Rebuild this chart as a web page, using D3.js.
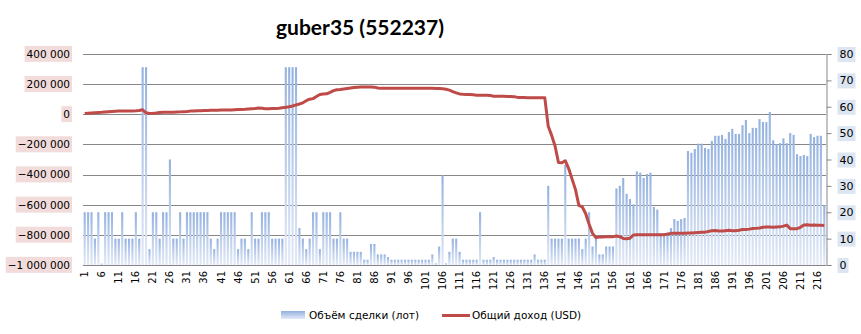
<html>
<head>
  <meta http-equiv='Content-Type' content='text/html;charset=utf-8'>
  <title>guber35 (552237)</title>
  <script src="https://d3js.org/d3.v7.min.js"></script>
  <style type='text/css'>
    body { margin: 0; background: #fff; }
    #main { position: relative; width: 861px; height: 334px; }
    svg { display: block; }
    svg text { font-family: 'DejaVu Sans', Verdana, sans-serif; fill: #000; }
    .title { font-family: Lato, 'Open Sans', sans-serif !important; font-weight: 700; font-size: 21px; }
    .grid line { stroke: #878787; stroke-width: 1; }
  </style>
</head>
<body>
<div id="main"></div>

<script type='text/javascript'>

// x categories (deal number) and the labels shown on the axis
var categories = d3.range(1, 219);
var xTickLabels = [1, 6, 11, 16, 21, 26, 31, 36, 41, 46, 51, 56, 61, 66, 71, 76, 81, 86, 91, 96,
  101, 106, 111, 116, 121, 126, 131, 136, 141, 146, 151, 156, 161, 166, 171, 176, 181, 186,
  191, 196, 201, 206, 211, 216];

var leftTicks = [-1000000, -800000, -600000, -400000, -200000, 0, 200000, 400000];
var rightTicks = [0, 10, 20, 30, 40, 50, 60, 70, 80];

// Объём сделки (лот) - right axis
var volume = [
  20, 20, 20, 10, 20, 0.5, 20, 20, 20, 10,
  10, 20, 10, 10, 10, 20, 10, 75, 75, 6,
  20, 20, 10, 20, 20, 40, 10, 10, 20, 10,
  20, 20, 20, 20, 20, 20, 20, 10, 6, 10,
  20, 20, 20, 20, 20, 6, 10, 10, 6, 20,
  10, 10, 20, 20, 20, 10, 10, 10, 10, 75,
  75, 75, 75, 14, 10, 6, 10, 20, 20, 6,
  20, 20, 20, 10, 10, 20, 10, 10, 5, 5,
  5, 5, 2, 2, 8, 8, 4, 4, 4, 3,
  2, 2, 2, 2, 2, 2, 2, 2, 2, 2,
  2, 2, 4, 0.6, 7, 34, 0.6, 5, 10, 10,
  5, 2, 2, 2, 2, 2, 20, 2, 2, 2,
  3, 2, 2, 2, 2, 2, 2, 2, 2, 2,
  2, 2, 4, 2, 2, 2, 30, 10, 10, 10,
  10, 38, 10, 10, 10, 10, 6, 10, 20, 7,
  10, 4, 4, 7, 7, 7, 29, 30, 33, 27,
  25, 23, 35.5, 35, 33, 34.5, 35, 22, 21, 12,
  12, 12.4, 14, 17.4, 16.7, 17.4, 17.8, 43.2, 42.5, 44,
  46, 46, 44.4, 44, 47, 49, 49, 49.3, 47.8, 50.4,
  51.6, 49.7, 49.7, 53, 55, 50, 52, 52, 55.3, 54.2,
  54.2, 58, 47.3, 45.8, 46.2, 48, 46.2, 50, 49.3, 42,
  41.3, 41.7, 41.3, 49.7, 48.5, 49, 49, 22.7
];

// Общий доход (USD) - left axis
var income = [
  5000, 7000, 9000, 11000, 12000, 13000, 15000, 17000, 19000, 20000,
  21000, 21000, 22000, 22000, 22000, 23000, 25000, 30000, 10000, 6000,
  7000, 9000, 12000, 13000, 13000, 14000, 14000, 15000, 16000, 17000,
  18000, 21000, 22000, 23000, 24000, 25000, 25000, 26000, 27000, 27000,
  28000, 28000, 29000, 29000, 30000, 31000, 32000, 33000, 35000, 37000,
  39000, 42000, 40000, 37000, 37000, 38000, 39000, 40000, 43000, 46000,
  50000, 55000, 62000, 68000, 76000, 90000, 100000, 104000, 118000, 131000,
  134000, 136000, 146000, 157000, 163000, 165000, 168000, 171000, 174000, 177000,
  180000, 181000, 181000, 181000, 181000, 180000, 175000, 172000, 172000, 172000,
  172000, 172000, 172000, 172000, 172000, 172000, 172000, 172000, 172000, 172000,
  172000, 172000, 172000, 171000, 171000, 170000, 166000, 160000, 151000, 142000,
  135000, 133000, 132000, 131000, 129000, 127000, 127000, 126000, 126000, 124000,
  120000, 119000, 119000, 119000, 118000, 118000, 117000, 112000, 111000, 111000,
  110000, 110000, 110000, 110000, 110000, 109000, -80000, -140000, -210000, -320000,
  -322000, -308000, -360000, -430000, -500000, -605000, -615000, -660000, -730000, -790000,
  -818000, -815000, -814000, -813000, -813000, -812000, -808000, -812000, -824000, -826000,
  -822000, -801000, -800000, -800000, -800000, -800000, -800000, -800000, -800000, -800000,
  -799000, -795000, -790000, -790000, -790000, -790000, -789000, -788000, -788000, -786000,
  -784000, -783000, -782000, -778000, -772000, -771000, -774000, -774000, -772000, -770000,
  -772000, -773000, -770000, -765000, -764000, -762000, -758000, -757000, -755000, -750000,
  -748000, -748000, -749000, -748000, -747000, -742000, -735000, -760000, -760000, -759000,
  -750000, -735000, -733000, -736000, -734000, -736000, -737000, -738000
];

var seriesNames = ['Объём сделки (лот)', 'Общий доход (USD)'];

var W = 861, H = 334,
    plot = { left: 83, right: 826, top: 54, bottom: 265 },
    lineColor = '#be4b48';

var fmt = function (v) {
  return d3.format(',')(v).replace(/,/g, ' ');
};

var svg = d3.select('#main').append('svg')
    .attr('width', W)
    .attr('height', H);

var defs = svg.append('defs');
var grad = defs.append('linearGradient')
    .attr('id', 'barGrad')
    .attr('x1', 0).attr('y1', 0).attr('x2', 0).attr('y2', 1);
grad.append('stop').attr('offset', '0%').attr('stop-color', '#93b1e0');
grad.append('stop').attr('offset', '100%').attr('stop-color', '#e3eaf7');

var x = d3.scaleBand()
    .domain(categories)
    .range([plot.left, plot.right])
    .paddingInner(0.38)
    .paddingOuter(0.19);

var yL = d3.scaleLinear()
    .domain([-1000000, 400000])
    .range([plot.bottom, plot.top]);

var yR = d3.scaleLinear()
    .domain([0, 80])
    .range([plot.bottom, plot.top]);

// title
svg.append('text')
    .attr('class', 'title')
    .attr('x', 360)
    .attr('y', 35)
    .attr('text-anchor', 'middle')
    .text('guber35 (552237)');

// gridlines from the left axis
svg.append('g')
    .attr('class', 'grid')
    .selectAll('line')
    .data(leftTicks)
  .enter().append('line')
    .attr('x1', plot.left)
    .attr('x2', plot.right)
    .attr('y1', function (d) { return Math.round(yL(d)) + 0.5; })
    .attr('y2', function (d) { return Math.round(yL(d)) + 0.5; });

// bars
svg.append('g')
    .selectAll('rect')
    .data(categories)
  .enter().append('rect')
    .attr('x', function (d) { return x(d); })
    .attr('width', x.bandwidth())
    .attr('y', function (d, i) { return yR(volume[i]); })
    .attr('height', function (d, i) { return yR(0) - yR(volume[i]); })
    .attr('fill', 'url(#barGrad)');

// right axis
var rightAxis = d3.axisRight(yR)
    .tickValues(rightTicks)
    .tickSize(5)
    .tickPadding(8);

var gR = svg.append('g')
    .attr('transform', 'translate(' + (plot.right + 0.5) + ',0)')
    .call(rightAxis);
gR.select('.domain').attr('stroke', '#878787');
gR.selectAll('.tick line').attr('stroke', '#878787');
gR.selectAll('.tick text')
    .attr('font-size', 11)
    .attr('font-family', "'DejaVu Sans', Verdana, sans-serif");

gR.selectAll('.tick').each(function () {
  var t = d3.select(this).select('text'),
      b = t.node().getBBox();
  d3.select(this).insert('rect', 'text')
      .attr('x', b.x - 2)
      .attr('y', b.y - 1)
      .attr('width', b.width + 4)
      .attr('height', b.height + 2)
      .attr('fill', '#dce6f2');
});

// left axis (labels only)
var leftAxis = d3.axisLeft(yL)
    .tickValues(leftTicks)
    .tickSize(0)
    .tickPadding(13)
    .tickFormat(fmt);

var gL = svg.append('g')
    .attr('transform', 'translate(' + plot.left + ',0)')
    .call(leftAxis);
gL.select('.domain').remove();
gL.selectAll('.tick text')
    .attr('font-size', 10.5)
    .attr('font-family', "'DejaVu Sans', Verdana, sans-serif");

gL.selectAll('.tick').each(function () {
  var t = d3.select(this).select('text'),
      b = t.node().getBBox();
  d3.select(this).insert('rect', 'text')
      .attr('x', b.x - 2)
      .attr('y', b.y - 2)
      .attr('width', b.width + 4)
      .attr('height', b.height + 4)
      .attr('fill', '#f2dcdb');
});

// x axis labels, rotated
var bottomAxis = d3.axisBottom(x)
    .tickValues(xTickLabels)
    .tickSize(0)
    .tickPadding(0);

var gB = svg.append('g')
    .attr('transform', 'translate(0,' + plot.bottom + ')')
    .call(bottomAxis);
gB.select('.domain').remove();
gB.selectAll('.tick text')
    .attr('font-size', 10)
    .attr('font-family', "'DejaVu Sans', Verdana, sans-serif")
    .attr('transform', 'rotate(-90)')
    .attr('x', -6)
    .attr('y', 0)
    .attr('dy', '0.35em')
    .attr('text-anchor', 'end');

// income line
var line = d3.line()
    .x(function (d, i) { return x(categories[i]) + x.bandwidth() / 2; })
    .y(function (d) { return yL(d); });

svg.append('path')
    .datum(income)
    .attr('d', line)
    .attr('fill', 'none')
    .attr('stroke', lineColor)
    .attr('stroke-width', 3)
    .attr('stroke-linejoin', 'round');

// legend
var legend = svg.append('g');

legend.append('rect')
    .attr('x', 281)
    .attr('y', 311)
    .attr('width', 24)
    .attr('height', 8)
    .attr('fill', 'url(#barGrad)');

legend.append('text')
    .attr('x', 309)
    .attr('y', 319)
    .attr('font-size', 10.5)
    .text(seriesNames[0]);

legend.append('line')
    .attr('x1', 442)
    .attr('x2', 470)
    .attr('y1', 315.5)
    .attr('y2', 315.5)
    .attr('stroke', lineColor)
    .attr('stroke-width', 3);

legend.append('text')
    .attr('x', 472)
    .attr('y', 319)
    .attr('font-size', 10.5)
    .text(seriesNames[1]);

</script>
</body>
</html>
